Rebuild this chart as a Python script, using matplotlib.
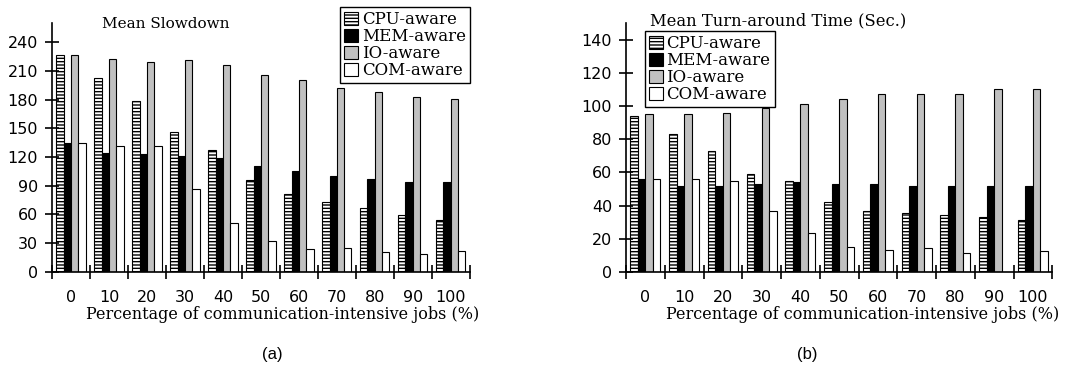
import numpy as np
import matplotlib
matplotlib.use("Agg")
import matplotlib.pyplot as plt

# group labels (percentage of communication-intensive jobs)
groups = ["0", "10", "20", "30", "40", "50", "60", "70", "80", "90", "100"]
series = ["CPU-aware", "MEM-aware", "IO-aware", "COM-aware"]

# (a) mean slowdown
slow_cpu = [227, 202, 178, 146, 127, 96, 81, 73, 67, 59, 54]
slow_mem = [135, 124, 123, 121, 119, 111, 105, 100, 97, 94, 94]
slow_io = [227, 222, 219, 221, 216, 206, 200, 192, 188, 183, 181]
slow_com = [135, 131, 131, 87, 51, 32, 24, 25.5, 21, 19, 22]

# (b) mean turn-around time (sec.)
tat_cpu = [94, 83, 73, 59, 55, 42, 37, 35.5, 34.5, 33, 31]
tat_mem = [56, 52, 52, 53, 54, 53, 53, 52, 52, 52, 52]
tat_io = [95, 95, 96, 99, 101, 104, 107, 107, 107, 110, 110]
tat_com = [56, 56, 55, 37, 23.5, 15, 13.5, 14.5, 11.5, 0, 12.5]

serif = "DejaVu Serif"
styles = [
    dict(facecolor="white", hatch="-----"),
    dict(facecolor="black"),
    dict(facecolor="#c0c0c0"),
    dict(facecolor="white"),
]
plt.rcParams["hatch.linewidth"] = 1.0

fig = plt.figure(figsize=(10.71, 3.7), dpi=100)

leg_kw = dict(bbox_transform=fig.transFigure, prop=dict(family=serif, size=12),
              frameon=True, fancybox=False, edgecolor="black", framealpha=1,
              handlelength=0.85, handleheight=0.85, handletextpad=0.2,
              labelspacing=0.0, borderpad=0.25, borderaxespad=0)


def draw(ax, data, ylim, yticks):
    x = np.arange(len(groups)) + 0.5
    w = 0.193
    for k, (vals, st) in enumerate(zip(data, styles)):
        ax.bar(x + (k - 1.5) * w, vals, w, edgecolor="black", linewidth=0.8,
               label=series[k], **st)
    ax.set_xlim(0, len(groups))
    ax.set_ylim(*ylim)
    ax.set_yticks(yticks)
    ax.set_xticks(np.arange(len(groups) + 1))
    ax.set_xticklabels([])
    ax.set_xticks(x, minor=True)
    ax.set_xticklabels(groups, minor=True)
    ax.tick_params(axis="both", which="major", direction="inout", length=10,
                   width=1.2, labelsize=11.5)
    ax.tick_params(axis="y", pad=5)
    ax.tick_params(axis="x", which="minor", length=0, pad=13, labelsize=11.5)
    for s in ["top", "right"]:
        ax.spines[s].set_visible(False)
    for s in ["left", "bottom"]:
        ax.spines[s].set_linewidth(1.2)
    ax.set_xlabel("Percentage of communication-intensive jobs (%)",
                  family=serif, fontsize=11.5)


ax1 = fig.add_axes([0.0486, 0.265, 0.390, 0.673])
draw(ax1, [slow_cpu, slow_mem, slow_io, slow_com], (0, 260),
     [0, 30, 60, 90, 120, 150, 180, 210, 240])
ax1.xaxis.set_label_coords(0.553, -0.135)
ax1.legend(loc="upper right", bbox_to_anchor=(0.4388, 0.981), **leg_kw)
fig.text(166 / 1071, 1 - 24 / 370, "Mean Slowdown", family=serif,
         fontsize=11, ha="center", va="center")

ax2 = fig.add_axes([0.5845, 0.265, 0.398, 0.673])
draw(ax2, [tat_cpu, tat_mem, tat_io, tat_com], (0, 150),
     [0, 20, 40, 60, 80, 100, 120, 140])
ax2.xaxis.set_label_coords(0.555, -0.135)
ax2.legend(loc="upper left", bbox_to_anchor=(0.602, 0.916), **leg_kw)
fig.text(778 / 1071, 1 - 21 / 370, "Mean Turn-around Time (Sec.)", family=serif,
         fontsize=11.8, ha="center", va="center")

fig.text(272 / 1071, 1 - 355 / 370, "(a)", family="Liberation Sans",
         fontsize=12, ha="center", va="center")
fig.text(807 / 1071, 1 - 355 / 370, "(b)", family="Liberation Sans",
         fontsize=12, ha="center", va="center")

fig.savefig("out.png", dpi=100)
